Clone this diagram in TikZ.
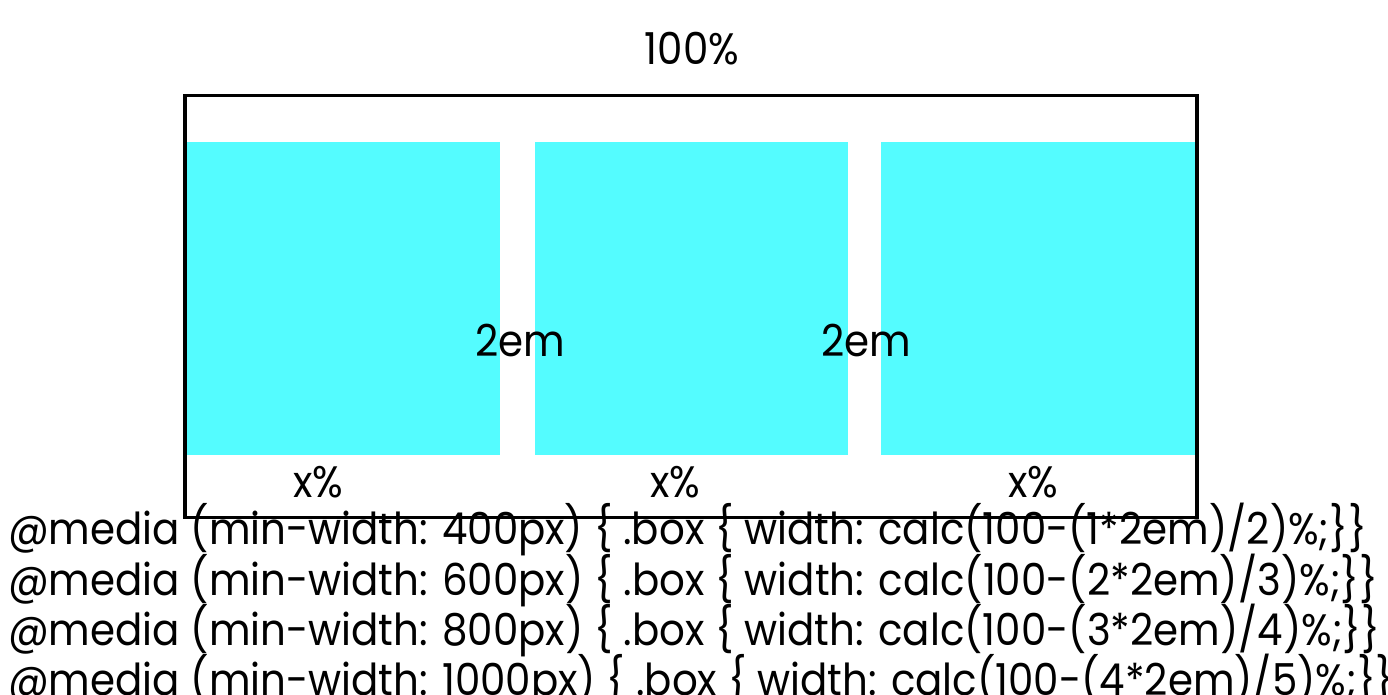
\documentclass[tikz,border=0pt]{standalone}
\usepackage{fontspec}
\setmainfont{Poppins}
\usepackage{graphicx}
\definecolor{boxcyan}{RGB}{84,252,255}
\newcommand{\txtfont}{\fontsize{22}{26}\selectfont}
\newsavebox{\measbox}
\AtBeginDocument{%
  \savebox{\measbox}{\txtfont @media (min-width: 600px) \{ .box \{ width: calc(100-(2*2em)/3)\%;\}\}}%
  \pgfmathsetmacro\sxtmp{685/\the\wd\measbox}%
  \global\let\sx\sxtmp}
\begin{document}
\begin{tikzpicture}[x=0.5pt,y=-0.5pt,
  cbox/.style={draw=none,fill=boxcyan,inner sep=0,outer sep=0,anchor=north west},
  txt/.style={anchor=base,inner sep=0,outer sep=0,font=\txtfont},
  code/.style={anchor=base west,inner sep=0,outer sep=0,font=\txtfont}]
\useasboundingbox (0,0) rectangle (1388,695);
\clip (0,0) rectangle (1388,695);
\fill[white] (0,0) rectangle (1388,695);
% cyan boxes
\node[cbox,minimum width=157pt,minimum height=156.5pt] (b1) at (186,142) {};
\node[cbox,minimum width=156.5pt,minimum height=156.5pt] (b2) at (535,142) {};
\node[cbox,minimum width=157pt,minimum height=156.5pt] (b3) at (881,142) {};
% outer frame
\node[draw=black,line width=1.8pt,inner sep=0,outer sep=0,anchor=north west,
      minimum width=506pt,minimum height=211pt] (frame) at (185,95.5) {};
% labels
\node[txt] (t100) at (692,65) {\scalebox{\sx}[1]{100\%}};
\node[txt] (g1) at (520,357) {\scalebox{\sx}[1]{2em}};
\node[txt] (g2) at (866,357) {\scalebox{\sx}[1]{2em}};
\node[txt] (x1) at (318,497) {\scalebox{\sx}[1]{x\%}};
\node[txt] (x2) at (675,497) {\scalebox{\sx}[1]{x\%}};
\node[txt] (x3) at (1033,497) {\scalebox{\sx}[1]{x\%}};
% code lines
\node[code] (c1) at (8,545) {\scalebox{\sx}[1]{@media (min-width: 400px) \{ .box \{ width: calc(100-(1*2em)/2)\%;\}\}}};
\node[code] (c2) at (8,595) {\scalebox{\sx}[1]{@media (min-width: 600px) \{ .box \{ width: calc(100-(2*2em)/3)\%;\}\}}};
\node[code] (c3) at (8,645) {\scalebox{\sx}[1]{@media (min-width: 800px) \{ .box \{ width: calc(100-(3*2em)/4)\%;\}\}}};
\node[code] (c4) at (8,695) {\scalebox{\sx}[1]{@media (min-width: 1000px) \{ .box \{ width: calc(100-(4*2em)/5)\%;\}\}}};
\end{tikzpicture}
\end{document}
